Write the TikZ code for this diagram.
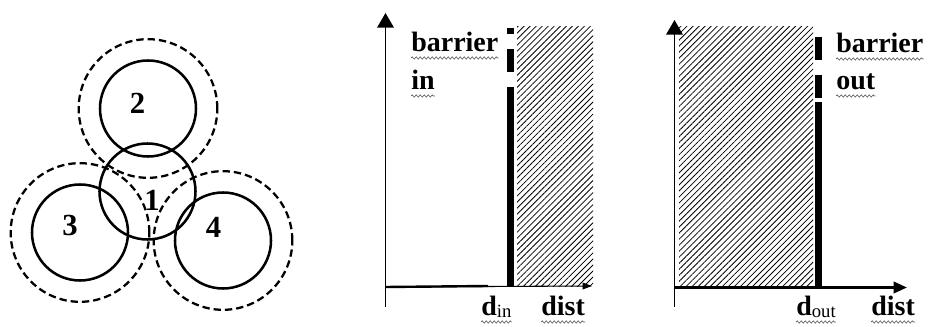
\documentclass[tikz,border=0pt]{standalone}
\usepackage{fontspec}
\setmainfont{Liberation Serif}
\usetikzlibrary{arrows.meta,patterns.meta,decorations.pathmorphing}
\begin{document}
\begin{tikzpicture}[x=0.75pt,y=-0.75pt,
  solidc/.style={circle,draw,line width=1.9pt,minimum size=72pt,inner sep=0pt},
  dashc/.style={circle,draw,line width=1.7pt,dash pattern=on 5.5pt off 3pt,minimum size=104pt,inner sep=0pt},
  num/.style={font=\fontsize{23}{23}\selectfont\bfseries,inner sep=0pt},
  lbl/.style={font=\fontsize{21}{21}\selectfont\bfseries,inner sep=0pt,anchor=base west},
  wavy/.style={draw=black!65,line width=0.5pt,decorate,decoration={snake,amplitude=0.8pt,segment length=3pt}},
  hatch/.style={pattern={Lines[angle=45,distance=3.2pt,line width=0.6pt]}},
  bar/.style={fill=black,draw=none},
  axis/.style={line width=1.1pt},
]
\useasboundingbox (0,0) rectangle (929,327);

% ---------------- left panel: circles ----------------
\node[dashc] (D2) at (148,108.5) {};
\node[dashc] (D3) at (80,232.5) {};
\node[dashc] (D4) at (223,240.5) {};
\node[solidc] (C1) at (147.5,191.5) {};
\node[solidc] (C2) at (148,108.5) {};
\node[solidc] (C3) at (80,232.5) {};
\node[solidc] (C4) at (223,240.5) {};
\node[num] (n2) at (137.5,103.5) {2};
\node[num] (n1) at (152,200) {1};
\node[num] (n3) at (70,226) {3};
\node[num] (n4) at (213.5,227.5) {4};

% ---------------- middle panel: barrier in ----------------
\fill[hatch] (517,27) rectangle (593,287);
\fill[bar] (507,28) rectangle (514,34);
\fill[bar] (507,49) rectangle (514,72);
\fill[bar] (507,87) rectangle (514,287);
\coordinate (mo) at (385.5,287);
\coordinate (mtop) at (385.5,13);
\coordinate (mbot) at (385.5,307);
\coordinate (mright) at (592,286);
\coordinate (mmid) at (488,286);
\draw[axis,-{Triangle[length=11pt,width=12.5pt]}] (mbot) -- (mtop);
\draw[line width=0.8pt,-{Triangle[length=7pt,width=5pt]}] (mo) -- (mright);
\draw[line width=1.8pt] (mo) -- (mmid);
\node[lbl] (bi1) at (411,52) {barrier};
\node[lbl] (bi2) at (411,90) {in};
\node[lbl] (din) at (481,316) {d\raisebox{-1.5pt}{\fontsize{14}{14}\selectfont\mdseries in}};
\node[lbl] (dist1) at (541,316) {dist};

% ---------------- right panel: barrier out ----------------
\fill[hatch] (679,27) rectangle (813,287);
\fill[bar] (815,37) rectangle (822,60);
\fill[bar] (815,75) rectangle (822,98);
\fill[bar] (815,102) rectangle (822,287);
\coordinate (ro) at (674.5,287.5);
\coordinate (rtop) at (674.5,20);
\coordinate (rbot) at (674.5,307);
\coordinate (rright) at (907,287.5);
\draw[axis,-{Triangle[length=11pt,width=12.5pt]}] (rbot) -- (rtop);
\draw[line width=2pt,-{Triangle[length=10pt,width=8.5pt]}] (ro) -- (rright);
\node[lbl] (bo1) at (836,53) {barrier};
\node[lbl] (bo2) at (836,90) {out};
\node[lbl] (dout) at (796,316) {d\raisebox{-1.5pt}{\fontsize{14}{14}\selectfont\mdseries out}};
\node[lbl] (dist2) at (871,316) {dist};

% ---------------- wavy underlines ----------------
\foreach \n in {bi1,bi2,din,dist1,bo1,bo2,dout,dist2}{
  \draw[wavy] ([yshift=-4.5pt]\n.base west) -- ([yshift=-4.5pt]\n.base east);
}
\end{tikzpicture}
\end{document}
